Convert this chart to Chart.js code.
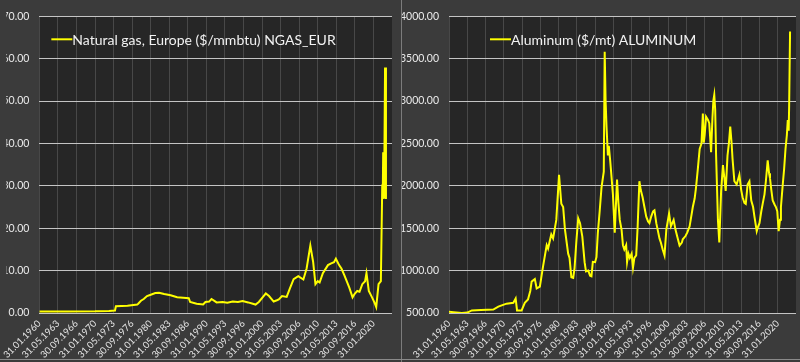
<!DOCTYPE html>
<html>
<head>
<meta charset="utf-8">
<script src="https://cdn.jsdelivr.net/npm/chart.js@4.4.1/dist/chart.umd.min.js"></script>
<style>
  html, body { margin:0; padding:0; width:800px; height:362px; overflow:hidden; background:#3b3b3b; }
  .panel { position:absolute; top:0; height:362px; }
  #pl { left:0; width:400px; }
  #pr { left:402px; width:398px; }
  #sep { position:absolute; left:401px; top:0; width:1px; height:362px; background:#7c7c7c; }
  #bot { position:absolute; left:0; top:359px; width:800px; height:1px; background:#8a8a8a; }
</style>
</head>
<body>
<div class="panel" id="pl"><canvas id="cl" width="400" height="362"></canvas></div>
<div id="sep"></div>
<div class="panel" id="pr"><canvas id="cr" width="398" height="362"></canvas></div>
<div id="bot"></div>
<script>
// Month index counted from January 1960 (0 = Jan 1960)
const xTickLabels = ['31.01.1960','31.05.1963','30.09.1966','31.01.1970','31.05.1973','30.09.1976','31.01.1980','31.05.1983','30.09.1986','31.01.1990','31.05.1993','30.09.1996','31.01.2000','31.05.2003','30.09.2006','31.01.2010','31.05.2013','30.09.2016','31.01.2020'];

const ngasLabel = 'Natural gas, Europe ($/mmbtu) NGAS_EUR';
const ngasMonth = [0,60,120,150,163,165,190,211,213,219,225,232,240,250,258,269,283,297,310,322,325,339,353,358,366,371,378,382,395,405,417,428,438,450,460,466,473,482,488,495,505,512,516,523,533,540,548,558,569,576,584,590,595,600,604,611,622,629,635,639,646,651,657,668,675,680,685,690,696,702,705,710,717,722,726,731,736,739,740,741,742,743,745,747];
const ngasValue = [0.35,0.35,0.4,0.5,0.6,1.6,1.7,2.0,2.2,2.9,3.3,4.0,4.3,4.7,4.8,4.5,4.2,3.7,3.6,3.5,2.6,2.2,2.0,2.6,2.7,3.3,2.8,2.5,2.6,2.4,2.7,2.6,2.8,2.5,2.2,2.0,2.6,3.8,4.6,4.0,2.7,3.0,3.2,4.0,3.8,5.8,8.0,8.7,7.9,10.5,15.9,12.1,6.8,7.5,7.2,9.4,11.3,11.7,12.0,12.8,11.3,10.5,9.0,6.0,3.7,4.6,5.2,5.0,6.8,7.5,9.4,5.2,3.7,2.5,1.4,6.8,7.5,30.3,26.9,37.9,28.5,27.0,57.9,26.9];

const aluLabel = 'Aluminum ($/mt) ALUMINUM';
const aluMonth = [0,10,28,40,50,70,97,108,126,141,146,149,159,166,173,178,181,188,192,199,206,214,217,224,228,235,241,246,250,254,261,264,268,272,275,279,283,287,292,297,300,305,309,312,315,320,323,326,330,334,339,341,343,345,348,350,353,359,363,368,371,374,378,381,384,388,390,393,396,400,403,406,410,413,417,420,424,428,432,436,439,443,447,450,454,457,461,464,468,472,476,482,486,492,496,500,505,510,512,518,522,527,534,538,541,545,549,553,556,558,560,563,567,570,574,577,579,581,583,585,589,592,596,600,603,606,610,613,616,619,621,625,630,636,640,643,647,650,654,658,662,666,669,674,677,680,684,687,691,694,698,701,703,706,709,713,716,719,722,725,727,731,734,737,740,742,744,745,747];
const aluValue = [515,510,500,505,530,535,540,575,610,620,670,530,530,620,660,760,870,900,790,810,1050,1300,1260,1427,1380,1598,2130,1788,1750,1484,1200,1150,922,914,1030,1350,1617,1560,1400,1100,990,1000,940,933,1104,1100,1160,1446,1700,1979,2168,3582,3000,2700,2358,2472,2300,1902,1446,2074,1800,1598,1480,1300,1250,1300,1100,1200,1150,1200,1036,1150,1180,1500,2054,1950,1865,1750,1636,1580,1560,1640,1700,1712,1560,1484,1380,1332,1250,1180,1484,1674,1522,1598,1484,1400,1295,1330,1370,1408,1450,1522,1750,1850,1979,2200,2435,2500,2852,2510,2600,2815,2780,2740,2396,2800,3005,3073,2900,2358,1598,1332,1941,2244,2100,1941,2358,2500,2700,2500,2320,2054,2016,2130,1950,1865,1800,1788,2016,2054,1827,1750,1636,1465,1520,1560,1700,1788,1900,2054,2300,2150,2092,1950,1827,1780,1750,1700,1465,1600,1750,2016,2200,2435,2600,2777,2650,2948,3821];

const FONT = 'Lato, "Open Sans", sans-serif';
const LINE = '#ffff00';

const areaBg = {
  id: 'areaBg',
  beforeDraw(chart) {
    const {ctx, chartArea:a} = chart;
    ctx.save();
    ctx.fillStyle = '#262626';
    ctx.fillRect(a.left, a.top, a.right - a.left, a.bottom - a.top);
    ctx.restore();
  }
};

const innerLegend = {
  id: 'innerLegend',
  afterDraw(chart, args, opts) {
    const {ctx, chartArea:a} = chart;
    const ds = chart.data.datasets[0];
    const y = a.top + opts.dy;
    ctx.save();
    ctx.strokeStyle = ds.borderColor;
    ctx.lineWidth = 2;
    ctx.beginPath();
    ctx.moveTo(a.left + opts.dx, y);
    ctx.lineTo(a.left + opts.dx + 21, y);
    ctx.stroke();
    ctx.fillStyle = '#f2f2f2';
    ctx.font = '14px ' + FONT;
    ctx.textBaseline = 'middle';
    ctx.fillText(ds.label, a.left + opts.dx + 21, y + 1);
    ctx.restore();
  }
};

function makeChart(id, label, xs, ys, yMin, yMax, yStep, yAxisWidth, padRight, legendDx) {
  return new Chart(document.getElementById(id), {
    type: 'line',
    data: {
      datasets: [{
        label: label,
        data: xs.map((m, i) => ({x: m, y: ys[i]})),
        borderColor: LINE,
        backgroundColor: LINE,
        borderWidth: 2,
        pointRadius: 0,
        tension: 0,
        fill: false
      }]
    },
    options: {
      responsive: false,
      animation: false,
      devicePixelRatio: 1,
      layout: { padding: { top: 6, right: padRight, bottom: 0, left: 0 } },
      plugins: {
        legend: { display: false },
        tooltip: { enabled: false },
        innerLegend: { dx: legendDx, dy: 23 }
      },
      scales: {
        x: {
          type: 'linear',
          min: 0, max: 760,
          afterFit(s) { s.height = 49; },
          border: { display: false },
          grid: { color: '#484848', lineWidth: 1, drawTicks: false },
          ticks: {
            stepSize: 40,
            autoSkip: false,
            maxRotation: 45, minRotation: 45,
            padding: 5,
            color: '#e4e4e4',
            font: { family: FONT, size: 9.5 },
            callback(v) {
              const k = Math.round(v / 40);
              return (k < xTickLabels.length) ? xTickLabels[k] : null;
            }
          }
        },
        y: {
          min: yMin, max: yMax,
          afterFit(s) { s.width = yAxisWidth; },
          border: { display: false },
          grid: { color: '#c4c4c4', lineWidth: 1, drawTicks: false },
          ticks: {
            stepSize: yStep,
            padding: 10,
            color: '#eaeaea',
            font: { family: FONT, size: 10.5 },
            callback(v) { return Number(v).toFixed(2); }
          }
        }
      }
    },
    plugins: [areaBg, innerLegend]
  });
}

makeChart('cl', ngasLabel, ngasMonth, ngasValue, 0, 70, 10, 33, 8, 12);
makeChart('cr', aluLabel, aluMonth, aluValue, 500, 4000, 500, 47, 4, 41);
</script>
</body>
</html>
